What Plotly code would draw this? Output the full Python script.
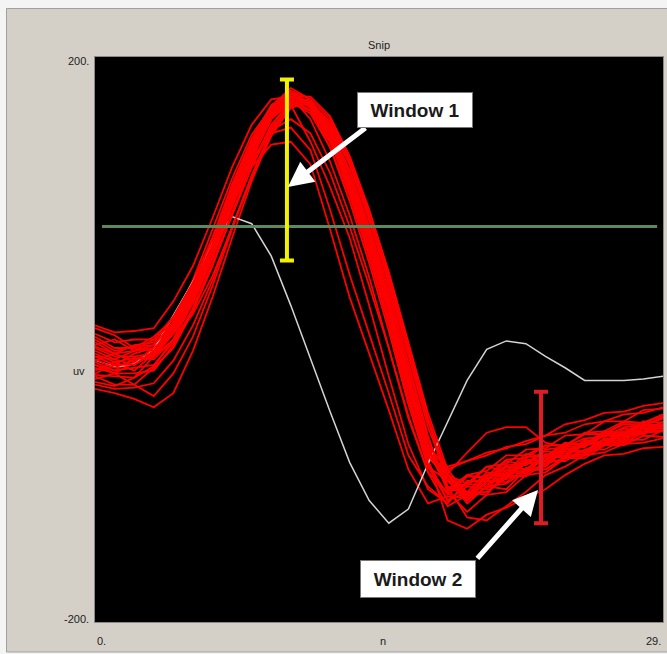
import plotly.graph_objects as go

# sample index 0..29, amplitude in uV
n = list(range(30))

white_trace = [-14.5, -19.5, -17.4, -6.7, 17, 41, 68, 87, 82, 59, 24, -14, -51, -87, -114,
               -130, -120, -88, -59, -29, -7, -1, -3, -12, -20, -29, -29, -29, -28, -26]

red_traces = [
    [8, 3, -6, 2, 14, 38, 70, 104, 136, 160, 172, 164, 142, 108, 66, 20, -32, -78, -96, -102, -90, -88, -78, -77, -68, -67, -58, -58, -50, -49],
    [-20, -24, -16, -10, 12, 42, 78, 114, 145, 164, 166, 140, 108, 72, 24, -26, -74, -106, -116, -101, -100, -90, -92, -82, -83, -74, -74, -66, -67, -60],
    [-10, -16, -13, -14, 0, 18, 45, 80, 114, 144, 164, 168, 152, 124, 86, 42, -8, -58, -95, -112, -98, -99, -87, -88, -77, -79, -70, -70, -62, -63],
    [-25, -26, -27, -12, 0, 28, 62, 100, 136, 165, 178, 170, 146, 110, 66, 18, -38, -86, -114, -108, -110, -94, -95, -83, -83, -73, -75, -65, -66, -58],
    [-18, -22, -14, -10, 8, 30, 62, 96, 122, 138, 140, 124, 78, 30, -10, -50, -92, -116, -111, -112, -96, -97, -86, -89, -79, -80, -71, -72, -63, -65],
    [-5, -10, -8, -6, 10, 34, 66, 100, 128, 146, 150, 134, 92, 46, 4, -38, -82, -104, -116, -100, -100, -86, -89, -79, -81, -71, -73, -63, -65, -58],
    [-30, -33, -27, -19, 0, 26, 58, 94, 128, 156, 170, 162, 140, 106, 62, 14, -40, -84, -95, -80, -66, -62, -62, -73, -76, -70, -69, -62, -61, -55],
    [-35, -38, -42, -48, -38, -8, 30, 72, 112, 146, 166, 168, 150, 118, 76, 28, -30, -85, -128, -134, -124, -119, -112, -106, -96, -88, -82, -81, -77, -76],
    [0, -8, -5, -4, 12, 36, 68, 104, 136, 162, 174, 166, 144, 110, 68, 22, -30, -76, -92, -86, -80, -77, -72, -68, -60, -57, -52, -51, -47, -45],
    [-32, -35, -34, -31, -15, 10, 42, 80, 116, 148, 166, 168, 154, 126, 88, 44, -6, -56, -96, -114, -104, -102, -93, -92, -84, -84, -75, -75, -68, -69],
    [10, 5, 6, 8, 27, 52, 86, 122, 152, 170, 172, 156, 126, 88, 44, -6, -56, -94, -108, -96, -93, -82, -82, -75, -75, -67, -67, -59, -59, -54],
    [-12, -18, -10, -6, 10, 34, 66, 102, 134, 160, 174, 168, 146, 112, 70, 24, -30, -80, -104, -110, -96, -97, -85, -85, -74, -74, -66, -66, -58, -59],
    [-22, -16, -22, -10, 4, 28, 60, 96, 130, 158, 172, 166, 146, 114, 74, 28, -24, -74, -100, -114, -100, -101, -91, -92, -83, -81, -73, -73, -66, -65],
    [-2, -10, -4, -2, 16, 40, 72, 106, 138, 162, 176, 170, 148, 114, 72, 26, -28, -78, -106, -96, -99, -89, -88, -78, -76, -66, -65, -58, -59, -53],
    [-15, -10, -16, -6, 6, 30, 62, 98, 130, 156, 168, 162, 140, 108, 66, 20, -34, -82, -100, -112, -96, -95, -83, -83, -74, -74, -65, -66, -60, -61],
    [-28, -24, -32, -20, -6, 20, 52, 88, 122, 152, 168, 166, 150, 120, 80, 36, -16, -68, -108, -122, -110, -108, -96, -94, -84, -82, -74, -74, -68, -69],
    [4, -2, 0, 0, 16, 40, 72, 108, 140, 164, 176, 166, 142, 104, 60, 12, -42, -88, -110, -97, -97, -85, -84, -75, -75, -67, -67, -60, -61, -56],
    [-8, -14, -8, -4, 12, 36, 68, 104, 136, 160, 170, 162, 140, 108, 68, 22, -30, -78, -96, -108, -94, -96, -85, -86, -76, -76, -68, -68, -60, -61],
    [-18, -24, -24, -22, -4, 22, 54, 90, 124, 152, 168, 166, 148, 118, 78, 32, -20, -70, -106, -108, -108, -96, -97, -86, -86, -78, -78, -71, -71, -64],
    [2, -6, -6, -8, 8, 32, 64, 100, 132, 158, 172, 166, 144, 112, 70, 24, -28, -76, -90, -86, -82, -76, -74, -68, -66, -60, -58, -53, -52, -48],
    [-26, -32, -32, -40, -24, 2, 38, 78, 116, 148, 168, 170, 156, 128, 90, 46, -4, -56, -104, -126, -128, -118, -108, -96, -90, -82, -80, -74, -73, -70],
    [-14, -20, -14, -12, 4, 26, 58, 94, 128, 156, 172, 172, 158, 130, 92, 48, -2, -52, -92, -110, -102, -98, -88, -86, -76, -75, -67, -67, -60, -61],
    [-6, -12, -12, -10, 6, 30, 62, 98, 132, 158, 174, 168, 146, 114, 72, 26, -26, -76, -106, -102, -104, -90, -92, -81, -82, -73, -73, -65, -66, -60],
    [-24, -18, -18, -8, 6, 32, 66, 102, 134, 158, 168, 160, 136, 102, 58, 10, -44, -90, -114, -104, -106, -92, -94, -82, -84, -72, -74, -67, -67, -61],
    [-4, 0, -8, 0, 12, 38, 72, 110, 142, 166, 176, 164, 136, 98, 54, 6, -46, -90, -100, -104, -90, -93, -81, -83, -73, -75, -65, -68, -61, -62],
    [-16, -22, -20, -18, -2, 22, 54, 88, 122, 150, 166, 168, 152, 124, 84, 40, -12, -62, -98, -116, -104, -106, -92, -90, -78, -76, -68, -69, -63, -65],
    [-12, -14, -18, -10, 6, 30, 62, 96, 126, 148, 156, 146, 118, 80, 38, -6, -54, -94, -118, -110, -108, -98, -96, -88, -84, -78, -74, -70, -66, -64],
]

threshold = 80
threshold_n = [0.36, 28.7]

window1_n, window1_lo, window1_hi = 9.8, 56, 184
window2_n, window2_lo, window2_hi = 22.77, -130, -37

W, H = 667, 654
L, R, T, B = 95, 4, 57, 32
pw, ph = W - L - R, H - T - B


def px_x(p):
    return (p - L) / pw


def px_y(p):
    return (H - B - p) / ph


fig = go.Figure()

half = len(red_traces) // 2
for tr in red_traces[:half]:
    fig.add_trace(go.Scatter(x=n, y=tr, mode="lines", line=dict(color="#ff0000", width=1.8)))
fig.add_trace(go.Scatter(x=n, y=white_trace, mode="lines", line=dict(color="#d4d4d4", width=1.5)))
for tr in red_traces[half:]:
    fig.add_trace(go.Scatter(x=n, y=tr, mode="lines", line=dict(color="#ff0000", width=1.8)))

# threshold line
fig.add_trace(go.Scatter(x=threshold_n, y=[threshold, threshold], mode="lines",
                         line=dict(color="#5b8a5b", width=3)))

# window bars
for wn, lo, hi, col in [(window1_n, window1_lo, window1_hi, "#f2f200"),
                        (window2_n, window2_lo, window2_hi, "#e01b24")]:
    mid = (lo + hi) / 2
    fig.add_trace(go.Scatter(
        x=[wn], y=[mid], mode="markers", marker=dict(size=1, color="rgba(0,0,0,0)"),
        error_y=dict(type="data", symmetric=False, array=[hi - mid], arrayminus=[mid - lo],
                     color=col, thickness=4, width=7)))

label_font = dict(family="Liberation Sans, Arial", size=11, color="#222")
box_font = dict(family="Liberation Sans, Arial", size=19, color="#1a1a1a", weight="bold")

annotations = [
    dict(text="Snip", x=px_x(379), y=px_y(45), xanchor="center", yanchor="middle"),
    dict(text="200.", x=px_x(91), y=px_y(61), xanchor="right", yanchor="middle"),
    dict(text="uv", x=px_x(87), y=px_y(371), xanchor="right", yanchor="middle"),
    dict(text="-200.", x=px_x(91), y=px_y(619), xanchor="right", yanchor="middle"),
    dict(text="0.", x=px_x(95), y=px_y(641), xanchor="left", yanchor="middle"),
    dict(text="n", x=px_x(383), y=px_y(641), xanchor="center", yanchor="middle"),
    dict(text="29.", x=px_x(663), y=px_y(641), xanchor="right", yanchor="middle"),
]
for a in annotations:
    a.update(xref="paper", yref="paper", showarrow=False, font=label_font)

# arrows (tip in data coords, tail offset in px)
annotations += [
    dict(x=9.85, y=108, xref="x", yref="y", ax=79, ay=-60, text="", showarrow=True,
         arrowhead=2, arrowsize=1, arrowwidth=5, arrowcolor="white", standoff=0),
    dict(x=22.62, y=-106.5, xref="x", yref="y", ax=-62, ay=70, text="", showarrow=True,
         arrowhead=2, arrowsize=1, arrowwidth=5, arrowcolor="white", standoff=0),
    dict(x=16.34, y=162.5, xref="x", yref="y", text="Window 1", showarrow=False,
         bgcolor="white", bordercolor="#777", borderwidth=1, borderpad=2,
         width=110, height=30, font=box_font),
    dict(x=16.49, y=-169.6, xref="x", yref="y", text="Window 2", showarrow=False,
         bgcolor="white", bordercolor="#777", borderwidth=1, borderpad=2,
         width=110, height=32, font=box_font),
]

frame = "#f4f4f4"
shapes = [
    dict(type="rect", xref="paper", yref="paper", x0=px_x(0), x1=px_x(W), y0=px_y(8), y1=px_y(0),
         fillcolor=frame, line=dict(width=0)),
    dict(type="rect", xref="paper", yref="paper", x0=px_x(0), x1=px_x(6), y0=px_y(H), y1=px_y(0),
         fillcolor=frame, line=dict(width=0)),
    dict(type="rect", xref="paper", yref="paper", x0=px_x(0), x1=px_x(W), y0=px_y(H), y1=px_y(652),
         fillcolor=frame, line=dict(width=0)),
    dict(type="rect", xref="paper", yref="paper", x0=px_x(6.5), x1=px_x(W + 2), y0=px_y(652), y1=px_y(8.5),
         fillcolor="rgba(0,0,0,0)", line=dict(color="#a0a0a0", width=1)),
]

fig.update_layout(
    width=W, height=H,
    margin=dict(l=L, r=R, t=T, b=B),
    paper_bgcolor="#d4d0c8", plot_bgcolor="black",
    showlegend=False,
    annotations=annotations,
    shapes=shapes,
)
fig.update_xaxes(range=[0, 29], showgrid=False, zeroline=False, showticklabels=False,
                 showline=True, linecolor="#8a8a8a", mirror=True)
fig.update_yaxes(range=[-200, 200], showgrid=False, zeroline=False, showticklabels=False,
                 showline=True, linecolor="#8a8a8a", mirror=True)

# page body has a default margin; drop it so the figure sits at the window corner
fig.write_html("out.html", config={"displayModeBar": False},
               post_script="document.body.style.margin='0';")
